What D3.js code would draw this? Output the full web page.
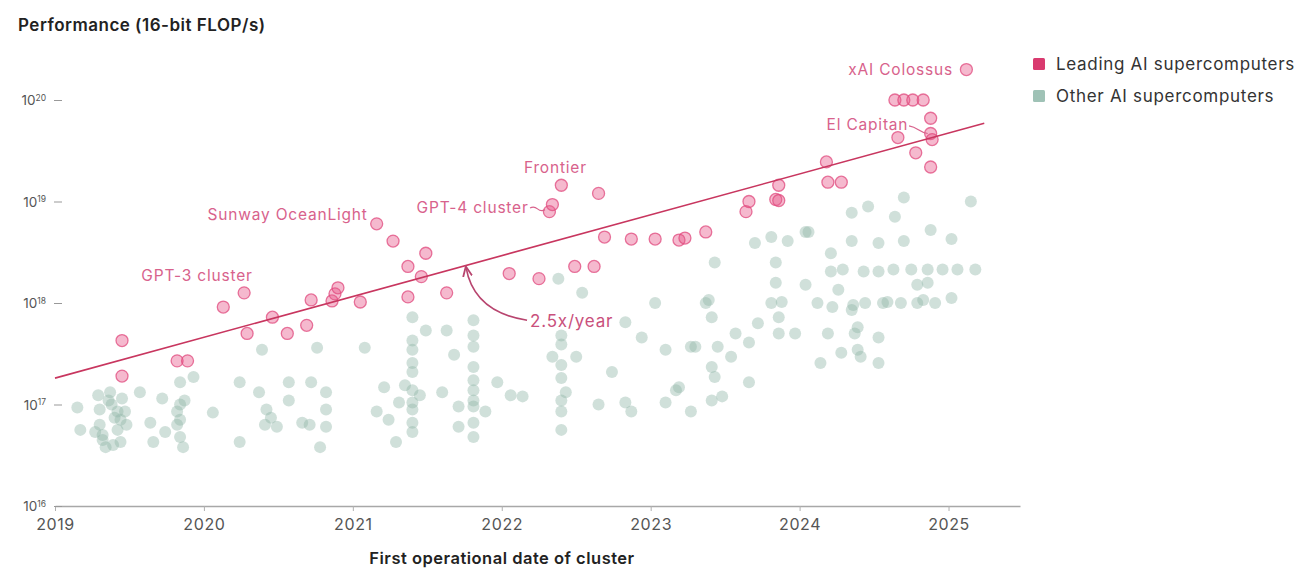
<!DOCTYPE html>
<html>
<head>
<meta charset="utf-8">
<script src="https://cdn.jsdelivr.net/npm/d3@7"></script>
<style>
  html, body { margin: 0; padding: 0; background: #fff; }
  svg { display: block; font-family: Inter, "Noto Sans", sans-serif; }
</style>
</head>
<body>
<svg id="chart" width="1309" height="568"></svg>
<script>
// ---------------- DATA ----------------
// Dates as decimal years, performance as log10(16-bit FLOP/s)
const leadingYears = [2019.45, 2019.45, 2019.82, 2019.89, 2020.13, 2020.27, 2020.29, 2020.46, 2020.56, 2020.69,
  2020.72, 2020.86, 2020.88, 2020.90, 2021.05, 2021.16, 2021.27, 2021.37, 2021.37, 2021.46,
  2021.49, 2021.63, 2022.05, 2022.25, 2022.49, 2022.62, 2022.32, 2022.34, 2022.40, 2022.65,
  2022.69, 2022.87, 2023.03, 2023.19, 2023.23, 2023.37, 2023.64, 2023.66, 2023.84, 2023.86,
  2023.86, 2024.18, 2024.19, 2024.28, 2024.64, 2024.70, 2024.76, 2024.83, 2024.88, 2024.88,
  2024.89, 2024.66, 2024.78, 2024.88, 2025.12];
const leadingLog10Flops = [17.63, 17.28, 17.43, 17.43, 17.96, 18.10, 17.70, 17.86, 17.70, 17.78,
  18.03, 18.02, 18.09, 18.15, 18.01, 18.78, 18.61, 18.36, 18.06, 18.26,
  18.49, 18.10, 18.29, 18.24, 18.36, 18.36, 18.90, 18.97, 19.16, 19.08,
  18.65, 18.63, 18.63, 18.62, 18.64, 18.70, 18.90, 19.00, 19.02, 19.01,
  19.16, 19.39, 19.19, 19.19, 20.00, 20.00, 20.00, 20.00, 19.82, 19.67,
  19.61, 19.63, 19.48, 19.34, 20.30];

const otherYears = [2019.15, 2019.17, 2019.29, 2019.30, 2019.30, 2019.32, 2019.34, 2019.37, 2019.38, 2019.40,
  2019.42, 2019.44, 2019.45, 2019.47, 2019.48, 2019.27, 2019.57, 2019.64, 2019.66, 2019.72,
  2019.74, 2019.84, 2019.93, 2019.82, 2019.82, 2019.84, 2019.86, 2019.87, 2020.06, 2020.24,
  2020.24, 2020.39, 2020.37, 2020.42, 2020.45, 2020.49, 2020.41, 2020.57, 2020.57, 2020.66,
  2020.76, 2020.72, 2020.82, 2020.82, 2020.82, 2020.71, 2020.78, 2021.08, 2021.21, 2021.16,
  2021.31, 2021.24, 2021.29, 2021.40, 2021.40, 2021.40, 2021.40, 2021.40, 2021.40, 2021.40,
  2021.35, 2021.45, 2021.49, 2021.63, 2021.68, 2021.60, 2021.71, 2021.71, 2021.81, 2021.81,
  2021.81, 2021.81, 2021.81, 2021.81, 2021.81, 2021.89, 2021.97, 2022.06, 2022.14, 2022.38,
  2022.54, 2022.40, 2022.34, 2022.50, 2022.40, 2022.43, 2022.40, 2022.40, 2022.83, 2022.94,
  2023.03, 2022.74, 2022.83, 2022.87, 2023.10, 2023.30, 2023.37, 2023.43, 2023.41, 2023.17,
  2023.10, 2023.27, 2023.41, 2023.45, 2022.65, 2023.19, 2023.48, 2023.27, 2023.43, 2023.54,
  2023.66, 2023.57, 2023.66, 2023.41, 2023.39, 2023.72, 2023.86, 2023.86, 2023.97, 2023.81,
  2023.88, 2023.84, 2024.04, 2023.84, 2023.70, 2023.81, 2023.92, 2024.04, 2024.12, 2024.22,
  2024.35, 2024.44, 2024.56, 2024.68, 2024.79, 2024.91, 2025.02, 2024.21, 2024.53, 2024.75,
  2024.86, 2024.96, 2025.06, 2025.18, 2024.86, 2024.21, 2024.35, 2024.53, 2024.70, 2024.88,
  2025.02, 2024.35, 2024.46, 2024.64, 2024.70, 2025.15, 2024.19, 2024.37, 2024.53, 2024.39,
  2024.39, 2024.14, 2024.28, 2024.41, 2024.53, 2024.06, 2024.26, 2024.79, 2019.36, 2019.42,
  2019.32, 2019.44, 2019.39, 2019.84, 2019.84, 2021.40, 2021.40, 2021.40, 2021.81, 2021.81,
  2021.81, 2022.40, 2022.40, 2022.40, 2024.36, 2024.59, 2024.83, 2024.29, 2024.43, 2024.63];
const otherLog10Flops = [16.97, 16.75, 17.09, 16.95, 16.80, 16.65, 16.58, 17.12, 17.00, 16.87,
  16.75, 16.63, 17.06, 16.93, 16.80, 16.73, 17.12, 16.82, 16.63, 17.06,
  16.73, 17.22, 17.27, 16.93, 16.80, 16.68, 16.58, 17.04, 16.92, 16.63,
  17.22, 17.54, 17.12, 16.95, 16.87, 16.78, 16.80, 17.04, 17.22, 16.82,
  17.56, 17.22, 17.12, 16.95, 16.78, 16.80, 16.58, 17.56, 17.17, 16.93,
  17.02, 16.85, 16.63, 17.86, 17.63, 17.41, 17.32, 17.02, 16.82, 16.73,
  17.19, 17.09, 17.73, 17.73, 17.49, 17.12, 16.98, 16.78, 17.83, 17.57,
  17.37, 17.14, 16.98, 16.82, 16.68, 16.93, 17.22, 17.09, 17.08, 18.24,
  18.10, 17.68, 17.47, 17.47, 17.26, 17.12, 16.93, 16.75, 17.81, 17.66,
  18.00, 17.32, 17.02, 16.93, 17.54, 17.57, 18.00, 18.40, 17.37, 17.14,
  17.02, 16.93, 17.04, 17.57, 17.00, 17.17, 17.08, 17.57, 17.27, 17.47,
  17.22, 17.70, 17.61, 17.86, 18.03, 17.80, 17.86, 17.70, 17.70, 18.00,
  18.01, 18.20, 18.18, 18.40, 18.59, 18.65, 18.61, 18.70, 18.00, 17.96,
  17.93, 18.00, 18.00, 18.00, 18.00, 18.00, 18.05, 18.31, 18.31, 18.33,
  18.33, 18.33, 18.33, 18.33, 18.20, 18.49, 18.61, 18.59, 18.61, 18.72,
  18.63, 18.89, 18.95, 18.85, 19.04, 19.00, 17.70, 17.70, 17.66, 17.54,
  17.76, 17.41, 17.51, 17.47, 17.41, 18.70, 18.13, 18.18, 17.04, 16.93,
  16.70, 16.85, 16.60, 16.85, 17.00, 17.54, 17.14, 16.95, 17.68, 17.24,
  17.04, 17.59, 17.39, 17.04, 17.98, 18.01, 18.03, 18.33, 18.31, 18.33];

// Trend line (2.5x/year fit)
const trendYears = [2019.0, 2025.24];
const trendLog10Flops = [17.26, 19.77];

// Axis ticks
const xTickYears = [2019, 2020, 2021, 2022, 2023, 2024, 2025];
const yTickExponents = [16, 17, 18, 19, 20];

// Labelled systems
const labelTexts  = ["xAI Colossus", "El Capitan", "Frontier", "GPT-4 cluster", "Sunway OceanLight", "GPT-3 cluster"];
const labelYears  = [2025.03, 2024.73, 2022.36, 2022.18, 2021.10, 2019.58];
const labelLog10  = [20.30, 19.76, 19.33, 18.94, 18.87, 18.27];
const labelAnchor = ["end", "end", "middle", "end", "end", "start"];

const legendLabels = ["Leading AI supercomputers", "Other AI supercomputers"];
const legendColors = ["#d93a6f", "#9fc2b6"];

// ---------------- DRAW ----------------
const svg = d3.select("#chart");
const pow10 = e => Math.pow(10, e);

const x = d3.scaleLinear().domain([2019, 2025.48]).range([55, 1020]);
const y = d3.scaleLog().domain([1e16, 1e20]).range([506, 100]);

// Title
svg.append("text").attr("x", 18).attr("y", 31)
  .attr("font-size", 17).attr("font-weight", 600).attr("fill", "#222")
  .attr("letter-spacing", 0.5)
  .text("Performance (16-bit FLOP/s)");

// X axis
const xAxis = d3.axisBottom(x).tickValues(xTickYears).tickFormat(d3.format("d"))
  .tickSizeInner(5).tickSizeOuter(0).tickPadding(8);
const gx = svg.append("g").attr("transform", "translate(0,506)").call(xAxis);
gx.select(".domain").attr("stroke", "#a8a8a8").attr("stroke-width", 1.6);
gx.selectAll(".tick line").attr("stroke", "#b0b0b0");
gx.selectAll(".tick text").attr("font-size", 16).attr("fill", "#555")
  .attr("letter-spacing", 0.6)
  .attr("font-family", "Inter, 'Noto Sans', sans-serif");

svg.append("text").attr("x", 502).attr("y", 564).attr("text-anchor", "middle")
  .attr("font-size", 16.5).attr("font-weight", 600).attr("fill", "#222")
  .attr("letter-spacing", 0.5)
  .text("First operational date of cluster");

// Y axis
const yAxis = d3.axisLeft(y).tickValues(yTickExponents.map(pow10)).tickSize(8).tickPadding(8).tickFormat("");
const gy = svg.append("g").attr("transform", "translate(62,0)").call(yAxis);
gy.select(".domain").remove();
gy.selectAll(".tick line").attr("stroke", "#999");
gy.selectAll(".tick").each(function(d, i) {
  const t = d3.select(this).append("text")
    .attr("x", -16).attr("dy", "0.35em").attr("text-anchor", "end")
    .attr("fill", "#555").attr("font-size", 13.5)
    .attr("font-family", "Inter, 'Noto Sans', sans-serif");
  t.append("tspan").text("10");
  t.append("tspan").attr("dy", "-0.55em").attr("font-size", 8.5).text(String(yTickExponents[i]));
});

// Other points
const others = otherYears.map((yr, i) => ({yr, v: pow10(otherLog10Flops[i])}));
svg.append("g").selectAll("circle").data(others).join("circle")
  .attr("cx", d => x(d.yr)).attr("cy", d => y(d.v)).attr("r", 6)
  .attr("fill", "#8fb5a8").attr("fill-opacity", 0.42);

// Leading points
const leading = leadingYears.map((yr, i) => ({yr, v: pow10(leadingLog10Flops[i])}));
svg.append("g").selectAll("circle").data(leading).join("circle")
  .attr("cx", d => x(d.yr)).attr("cy", d => y(d.v)).attr("r", 6)
  .attr("fill", "#e8578a").attr("fill-opacity", 0.42)
  .attr("stroke", "#e04a7e").attr("stroke-opacity", 0.75).attr("stroke-width", 1.3);

// Trend line
const line = d3.line().x((d, i) => x(trendYears[i])).y((d, i) => y(pow10(trendLog10Flops[i])));
svg.append("path").datum(trendYears).attr("d", line)
  .attr("fill", "none").attr("stroke", "#c8365f").attr("stroke-width", 1.6);

// Labels
const labelColor = "#d8628c";
labelTexts.forEach((t, i) => {
  svg.append("text").attr("x", x(labelYears[i])).attr("y", y(pow10(labelLog10[i])))
    .attr("dy", "0.35em").attr("text-anchor", labelAnchor[i])
    .attr("font-size", 15.5).attr("letter-spacing", 0.8)
    .attr("fill", labelColor).text(t);
});

// Small leader squiggles (El Capitan, GPT-4 cluster)
const leaders = [
  {from: [2024.735, 19.745], to: [2024.86, 19.67]},
  {from: [2022.19, 18.935], to: [2022.29, 18.92]}
];
leaders.forEach(l => {
  const x0 = x(l.from[0]), y0 = y(pow10(l.from[1]));
  const x1 = x(l.to[0]), y1 = y(pow10(l.to[1]));
  const mx = (x0 + x1) / 2, my = (y0 + y1) / 2;
  svg.append("path")
    .attr("d", `M${x0},${y0} Q${(x0+mx)/2},${my-3} ${mx},${my} T${x1},${y1}`)
    .attr("fill", "none").attr("stroke", labelColor).attr("stroke-width", 1.2);
});

// 2.5x/year annotation with arrow
svg.append("defs").append("marker")
  .attr("id", "arrow").attr("viewBox", "0 0 10 10").attr("refX", 8).attr("refY", 5)
  .attr("markerWidth", 7).attr("markerHeight", 7).attr("orient", "auto-start-reverse")
  .append("path").attr("d", "M0,1 L9,5 L0,9").attr("fill", "none")
  .attr("stroke", "#b8456f").attr("stroke-width", 1.6);

const arrowStart = [2022.17, 17.83], arrowEnd = [2021.76, 18.35];
const ax0 = x(arrowStart[0]), ay0 = y(pow10(arrowStart[1]));
const ax1 = x(arrowEnd[0]), ay1 = y(pow10(arrowEnd[1]));
svg.append("path")
  .attr("d", `M${ax0},${ay0} Q${ax1 + 8},${ay0 - 8} ${ax1},${ay1}`)
  .attr("fill", "none").attr("stroke", "#b8456f").attr("stroke-width", 1.6)
  .attr("marker-end", "url(#arrow)");

svg.append("text").attr("x", x(2022.19)).attr("y", y(pow10(17.82))).attr("dy", "0.35em")
  .attr("font-size", 17).attr("letter-spacing", 0.8).attr("fill", "#c9507c").text("2.5x/year");

// Legend
const lg = svg.append("g").attr("transform", "translate(1033,58)");
legendLabels.forEach((lab, i) => {
  lg.append("rect").attr("x", 0).attr("y", i * 32).attr("width", 12).attr("height", 12)
    .attr("rx", 1.5).attr("fill", legendColors[i]);
  lg.append("text").attr("x", 23).attr("y", i * 32 + 6).attr("dy", "0.35em")
    .attr("font-size", 17).attr("letter-spacing", 0.7).attr("fill", "#333").text(lab);
});
</script>
</body>
</html>
